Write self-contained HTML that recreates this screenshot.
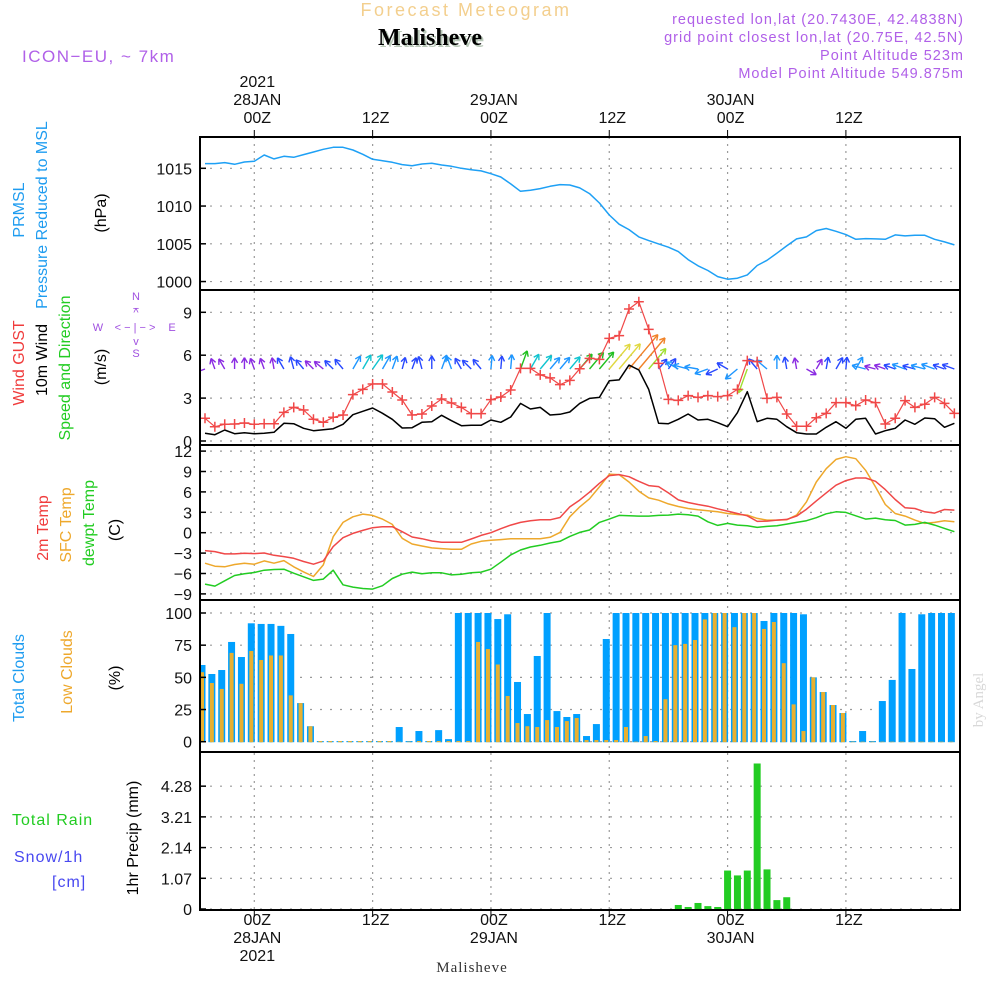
<!DOCTYPE html>
<html><head><meta charset="utf-8"><title>Forecast Meteogram Malisheve</title>
<style>
html,body{margin:0;padding:0;background:#fff;}
svg{display:block;font-family:"Liberation Sans Narrow","Liberation Sans",sans-serif;}
.tk{font-size:16px;fill:#111;}
.lab{font-size:16px;}
</style></head>
<body>
<svg id="chart" width="1000" height="1000" viewBox="0 0 1000 1000" xmlns="http://www.w3.org/2000/svg">
  <rect width="1000" height="1000" fill="#fff"/>
  <text x="466" y="16" text-anchor="middle" font-size="18" fill="#f3cf8e" letter-spacing="2.5" font-family="Liberation Sans, sans-serif">Forecast Meteogram</text>
  <text x="432" y="47" text-anchor="middle" font-size="24" font-weight="bold" fill="#b8c8b8" font-family="Liberation Serif, serif">Malisheve</text>
  <text x="430" y="45" text-anchor="middle" font-size="24" font-weight="bold" fill="#000" font-family="Liberation Serif, serif">Malisheve</text>
  <text x="22" y="62" font-size="17" fill="#b060e8" letter-spacing="1.5" font-family="Liberation Sans, sans-serif">ICON−EU, ~ 7km</text>
  <g font-size="14.5" fill="#b060e8" text-anchor="end" letter-spacing="1" font-family="Liberation Sans, sans-serif">
    <text x="964" y="24">requested lon,lat (20.7430E, 42.4838N)</text>
    <text x="964" y="42">grid point closest lon,lat (20.75E, 42.5N)</text>
    <text x="964" y="60">Point Altitude 523m</text>
    <text x="964" y="78">Model Point Altitude 549.875m</text>
  </g>
  <g id="grid"></g>
  <g id="marks"></g>
  <g id="axes"></g>

  <g class="lab">
    <text transform="translate(24,210) rotate(-90)" text-anchor="middle" fill="#1e9cf0">PRMSL</text>
    <text transform="translate(47,215) rotate(-90)" text-anchor="middle" fill="#1e9cf0">Pressure Reduced to MSL</text>
    <text transform="translate(106,213) rotate(-90)" text-anchor="middle" fill="#000">(hPa)</text>

    <text transform="translate(24,363) rotate(-90)" text-anchor="middle" fill="#f03c3c">Wind GUST</text>
    <text transform="translate(47,360) rotate(-90)" text-anchor="middle" fill="#000">10m Wind</text>
    <text transform="translate(70,368) rotate(-90)" text-anchor="middle" fill="#22cc22">Speed and Direction</text>
    <text transform="translate(106,367) rotate(-90)" text-anchor="middle" fill="#000">(m/s)</text>
    <g fill="#a050e0" font-size="11" text-anchor="middle">
      <text x="136" y="300">N</text><text x="136" y="312">−</text><text x="136" y="316">^</text>
      <text x="98" y="331">W</text><text x="135" y="331">&lt; − | − &gt;</text><text x="172" y="331">E</text>
      <text x="136" y="345">v</text><text x="136" y="357">S</text>
    </g>

    <text transform="translate(48,528) rotate(-90)" text-anchor="middle" fill="#f03c3c">2m Temp</text>
    <text transform="translate(71,525) rotate(-90)" text-anchor="middle" fill="#eea82c">SFC Temp</text>
    <text transform="translate(94,523) rotate(-90)" text-anchor="middle" fill="#22cc22">dewpt Temp</text>
    <text transform="translate(120,530) rotate(-90)" text-anchor="middle" fill="#000">(C)</text>

    <text transform="translate(24,678) rotate(-90)" text-anchor="middle" fill="#1e9cf0">Total Clouds</text>
    <text transform="translate(72,672) rotate(-90)" text-anchor="middle" fill="#eea82c">Low Clouds</text>
    <text transform="translate(120,678) rotate(-90)" text-anchor="middle" fill="#000">(%)</text>

    <text x="12" y="825" fill="#22cc22" letter-spacing="1">Total  Rain</text>
    <text x="14" y="862" fill="#4848f0" letter-spacing="1">Snow/1h</text>
    <text x="52" y="887" fill="#4848f0" letter-spacing="1">[cm]</text>
    <text transform="translate(138,838) rotate(-90)" text-anchor="middle" fill="#000">1hr Precip (mm)</text>
  </g>
  <text x="472" y="972" text-anchor="middle" font-size="15" fill="#333" font-family="Liberation Serif, serif" letter-spacing="1">Malisheve</text>
  <text transform="translate(983,700) rotate(-90)" text-anchor="middle" font-size="15" fill="#d8d8d8" font-family="Liberation Serif, serif">by Angel</text>
</svg>
<script>
// ---- data (hourly, index 0 = 19Z 27 JAN) ----
const hours = [0,1,2,3,4,5,6,7,8,9,10,11,12,13,14,15,16,17,18,19,20,21,22,23,24,25,26,27,28,29,30,31,32,33,34,35,36,37,38,39,40,41,42,43,44,45,46,47,48,49,50,51,52,53,54,55,56,57,58,59,60,61,62,63,64,65,66,67,68,69,70,71,72,73,74,75,76];
const pressure = [1015.62,1015.62,1015.75,1015.53,1015.84,1015.93,1016.76,1016.24,1016.59,1016.46,1016.81,1017.16,1017.51,1017.78,1017.78,1017.43,1016.85,1016.19,1016.01,1015.79,1015.49,1015.35,1015.57,1015.66,1015.44,1015.26,1015.0,1014.82,1014.65,1014.29,1013.85,1012.93,1011.96,1012.09,1012.31,1012.62,1012.84,1012.79,1012.4,1011.65,1010.41,1008.82,1007.59,1006.88,1005.91,1005.43,1004.99,1004.55,1003.97,1002.91,1002.08,1001.46,1000.66,1000.31,1000.44,1000.88,1002.12,1002.82,1003.75,1004.72,1005.65,1005.91,1006.75,1007.02,1006.66,1006.22,1005.6,1005.69,1005.65,1005.6,1006.18,1006.04,1006.13,1006.13,1005.6,1005.25,1004.85];
const gust = [1.59,1.0,1.17,1.19,1.26,1.17,1.21,1.21,2.0,2.35,2.17,1.52,1.31,1.66,1.82,3.24,3.61,3.99,3.99,3.43,2.87,1.82,1.89,2.45,2.94,2.66,2.35,1.91,1.91,2.89,3.08,3.57,5.08,5.08,4.62,4.41,3.94,4.24,5.05,5.78,5.71,7.18,7.37,9.23,9.74,7.81,5.43,2.91,2.84,3.17,3.05,3.17,3.1,3.17,3.61,5.62,5.55,2.98,3.05,1.89,1.03,1.03,1.63,1.93,2.68,2.68,2.47,2.87,2.68,1.19,1.59,2.82,2.35,2.57,3.05,2.63,1.93];
const wind10 = [0.54,0.44,0.77,0.51,0.58,0.51,0.54,0.61,1.24,1.21,0.89,0.72,0.79,0.86,1.17,1.84,2.08,2.31,1.94,1.52,0.91,0.93,1.31,1.35,1.8,1.42,1.07,1.1,1.1,1.47,1.31,1.68,2.63,2.24,2.35,1.82,1.87,2.03,2.63,2.98,3.05,4.22,4.27,5.31,4.97,3.61,1.24,1.21,1.52,1.89,1.47,1.52,1.28,1.0,1.98,3.45,1.35,1.59,1.52,1.0,0.58,0.49,0.49,0.96,1.35,0.89,1.52,1.59,0.49,0.72,0.89,1.47,1.17,1.61,1.56,0.96,1.24];
const windDir = [250,340,330,0,0,340,340,350,330,345,320,315,310,315,320,30,30,35,30,20,15,20,345,0,20,340,330,315,320,5,5,5,20,30,40,40,40,40,40,40,40,40,40,40,40,40,40,35,300,285,280,250,245,300,230,200,320,310,0,350,350,120,30,10,30,5,30,285,285,290,290,290,285,285,290,290,290];
const temp2m = [-2.63,-2.78,-3.12,-3.12,-3.02,-3.07,-2.98,-3.32,-3.51,-3.76,-4.24,-4.63,-4.15,-2.05,-0.73,-0.1,0.34,0.73,0.88,0.88,0.15,-0.63,-0.88,-1.22,-1.41,-1.41,-1.41,-0.93,-0.39,0,0.59,1.12,1.51,1.76,1.90,1.90,2.24,3.80,4.8,5.95,7.27,8.39,8.54,8.24,7.56,6.93,6.78,5.85,4.83,4.44,4.15,3.9,3.51,3.17,2.83,2.49,1.66,1.71,1.85,1.95,2.44,3.46,4.68,5.85,6.98,7.66,8.05,8.05,7.56,6.34,4.88,3.66,3.56,3.07,2.88,3.41,3.32];
const tempSfc = [-4.49,-4.93,-5.02,-4.68,-4.49,-4.63,-4.15,-4.49,-4.1,-5.02,-5.76,-6.44,-4.73,-0.59,1.51,2.34,2.73,2.54,2.0,1.22,-0.83,-1.66,-1.95,-2.24,-2.34,-2.44,-2.44,-1.66,-1.27,-1.12,-1.02,-0.88,-0.88,-0.88,-0.88,-0.68,0.05,2.34,3.8,4.98,6.73,8.59,8.54,7.46,6.1,5.12,4.78,4.24,3.85,3.56,3.37,3.22,3.07,2.83,2.68,2.59,2.1,1.85,1.85,1.9,2.59,4.54,7.46,9.41,10.78,11.17,10.88,9.17,6.73,4.15,2.83,2.44,1.85,1.37,1.51,1.76,1.61];
const dewpt = [-7.56,-7.85,-7.07,-6.29,-6.05,-5.85,-5.51,-5.41,-5.37,-5.95,-6.49,-7.02,-6.83,-5.51,-7.66,-8.0,-8.2,-8.29,-7.8,-6.73,-6.1,-5.8,-6.05,-5.9,-5.9,-6.2,-6.1,-5.9,-5.8,-5.37,-4.34,-3.27,-2.54,-2.1,-1.85,-1.51,-1.27,-0.54,0.05,0.39,1.51,2.0,2.54,2.49,2.44,2.44,2.54,2.59,2.73,2.63,2.44,1.61,1.07,1.37,1.12,1.02,0.78,0.93,1.02,1.27,1.51,1.76,2.2,2.78,3.07,2.98,2.49,2.0,2.15,1.9,1.8,1.12,1.22,1.51,1.12,0.63,0.15];
const totalCloud = [59.6,52.6,55.7,77.5,65.8,92,91.5,91.5,90,83.7,30,12,0.5,0.5,0.5,0.5,0.5,0.5,0.5,0.5,11.4,0.5,8.3,0.5,9,2,100,100,100,100,95.3,99,46.4,21.5,66.6,100,23.8,19.2,21.5,4.4,13.7,79.8,100,100,100,100,100,100,100,100,100,100,100,100,100,100,100,93.8,100,100,100,99,50,38.6,28.5,22.3,0.5,8.3,0.5,31.6,48,100,56.5,99,100,100,100];
const lowCloud = [54,45.6,41,69,45,70.5,63.5,67,67,36,30,12,0.5,0.5,0.5,0.5,0.5,0.5,0.5,0.5,0,0,0.5,0.5,0.5,0.5,0.5,0.5,77.5,72,60,35.5,14.5,12,11.4,16.8,11.4,16,18.4,1.3,1.3,1.3,1.3,11.4,0,4.4,0.5,33,75,76,79,95,100,100,89,100,100,87.6,93,61,29,8.3,50,38.6,28.5,22.3,0,0,0,0,0,0,0,0,0,0,0];
const precip = [0,0,0,0,0,0,0,0,0,0,0,0,0,0,0,0,0,0,0,0,0,0,0,0,0,0,0,0,0,0,0,0,0,0,0,0,0,0,0,0,0,0,0,0,0,0,0,0,0.14,0.07,0.21,0.10,0.07,1.34,1.17,1.34,5.07,1.38,0.31,0.41,0,0,0,0,0,0,0,0,0,0,0,0,0,0,0,0,0];
const timeTickHours = [5,17,29,41,53,65];
const timeTickLabels = ["00Z","12Z","00Z","12Z","00Z","12Z"];
const dateLabels = ["28JAN","","29JAN","","30JAN",""];
const pressTicks = [1000,1005,1010,1015];
const windTicks = [0,3,6,9];
const tempTicks = [-9,-6,-3,0,3,6,9,12];
const cloudTicks = [0,25,50,75,100];
const precipTicks = [0,1.07,2.14,3.21,4.28];

const X0=200, X1=960;
const x = h => 205 + 9.86*h;
const yP = v => 168.3 + (1015 - v)*7.55;
const yW = v => 441 - v*14.3;
const yT = v => 532.7 - v*6.8;
const yC = v => 741.7 - v*1.287;
const yR = v => 909 - v*28.7;
const panels = [[137,290],[290,445],[445,600],[600,752],[752,910]];

const NS='http://www.w3.org/2000/svg';
function mk(tag, attrs, parent){const e=document.createElementNS(NS,tag);for(const k in attrs)e.setAttribute(k,attrs[k]);parent.appendChild(e);return e;}
const grid=document.getElementById('grid'), marks=document.getElementById('marks'), axes=document.getElementById('axes');

const defs=mk('defs',{},document.getElementById('chart'));
const cp=mk('clipPath',{id:'plotclip'},defs); mk('rect',{x:X0,y:137,width:X1-X0,height:773},cp);
marks.setAttribute('clip-path','url(#plotclip)');

timeTickHours.forEach((h,k)=>{
  const gx=x(h);
  const lx=gx+3;
  const l=mk('line',{x1:gx,x2:gx,y1:137,y2:910,stroke:'#9a9a9a','stroke-width':1.2,'stroke-dasharray':'2 5'},grid);
  
  
  mk('line',{x1:gx,x2:gx,y1:130,y2:137,stroke:'#000'},axes);
  mk('line',{x1:gx,x2:gx,y1:910,y2:917,stroke:'#000'},axes);
  const t1=mk('text',{x:lx,y:123,'text-anchor':'middle',class:'tk'},axes); t1.textContent=timeTickLabels[k];
  
  
  const t2=mk('text',{x:lx,y:925,'text-anchor':'middle',class:'tk'},axes); t2.textContent=timeTickLabels[k];
  
  
  if(dateLabels[k]){
    const d1=mk('text',{x:lx,y:105,'text-anchor':'middle',class:'tk'},axes); d1.textContent=dateLabels[k];
    
    
    const d2=mk('text',{x:lx,y:943,'text-anchor':'middle',class:'tk'},axes); d2.textContent=dateLabels[k];
    
    
  }
  if(k===0){
    const y1=mk('text',{x:lx,y:87,'text-anchor':'middle',class:'tk'},axes); y1.textContent='2021';
    
    
    const y2=mk('text',{x:lx,y:961,'text-anchor':'middle',class:'tk'},axes); y2.textContent='2021';
    
    
  }
});

function yAxis(ticks, sc, name){
  ticks.forEach(v=>{
    const yy=sc(v);
    const g=mk('line',{x1:X0,x2:X1,y1:yy,y2:yy,stroke:'#9a9a9a','stroke-width':1.2,'stroke-dasharray':'2 8'},grid);
    
    
    mk('line',{x1:X0,x2:X0+6,y1:yy,y2:yy,stroke:'#000','stroke-width':1.5},axes);
    const t=mk('text',{x:192,y:yy+6,'text-anchor':'end',class:'tk'},axes);
    t.textContent=String(v).replace('-','−');
    
    
  });
}
yAxis(pressTicks,yP,'pressure');
yAxis(windTicks,yW,'wind');
yAxis(tempTicks,yT,'temp');
yAxis(cloudTicks,yC,'cloud');
yAxis(precipTicks,yR,'precip');

function line(arr, sc, color, name, w){
  const d=arr.map((v,i)=>(i?'L':'M')+x(hours[i]).toFixed(1)+','+sc(v).toFixed(1)).join('');
  const p=mk('path',{d:d,fill:'none',stroke:color,'stroke-width':w||1.5,'stroke-linejoin':'round'},marks);
  
  
}

line(pressure,yP,'#1ea0f5','pressure-line');

totalCloud.forEach((v,i)=>{
  const cx=x(hours[i])-3;
  const r=mk('rect',{x:cx-3.5,y:yC(v),width:7,height:yC(0)-yC(v)+0.5,fill:'#00a0ff'},marks);
  
  
});
lowCloud.forEach((v,i)=>{
  const cx=x(hours[i])-3;
  const r=mk('rect',{x:cx-2,y:yC(v),width:4,height:yC(0)-yC(v)+0.5,fill:'#e8b030'},marks);
  
  
});

precip.forEach((v,i)=>{
  if(v<=0) return;
  const cx=x(hours[i]);
  const r=mk('rect',{x:cx-3.5,y:yR(v),width:7,height:yR(0)-yR(v),fill:'#22cc22'},marks);
  
  
});

line(tempSfc,yT,'#eea82c','sfc-temp-line');
line(temp2m,yT,'#f04848','temp-2m-line');
line(dewpt,yT,'#22cc22','dewpoint-line');

function windColor(s){
  if(s<0.8) return '#8a2be2';
  if(s<1.4) return '#2848ff';
  if(s<2.0) return '#1e96ff';
  if(s<2.5) return '#10c4d0';
  if(s<3.3) return '#20c020';
  if(s<4.0) return '#a0e030';
  if(s<4.6) return '#e0d840';
  return '#f08228';
}
wind10.forEach((s,i)=>{
  const tx=x(hours[i]), ty=369;
  const L=11+1.2*s*s;
  const a=windDir[i]*Math.PI/180;
  const hx=tx+L*Math.sin(a), hy=ty-L*Math.cos(a);
  const c=windColor(s);
  const g=mk('g',{stroke:c,'stroke-width':1.4,fill:'none'},marks);
  
  
  mk('line',{x1:tx,y1:ty,x2:hx,y2:hy},g);
  [150,-150].forEach(o=>{
    const b=a+o*Math.PI/180;
    mk('line',{x1:hx,y1:hy,x2:hx+6*Math.sin(b),y2:hy-6*Math.cos(b)},g);
  });
});

line(wind10,yW,'#000','wind-10m-line',1.5);
line(gust,yW,'#f04848','wind-gust-line',1.2);
gust.forEach((v,i)=>{
  const cx=x(hours[i]), cy=yW(v);
  const g=mk('path',{d:`M${cx-5},${cy}H${cx+5}M${cx},${cy-5}V${cy+5}`,stroke:'#f04848','stroke-width':1.5},marks);
  
  
});

panels.forEach(([a,b])=>{
  const r=mk('rect',{x:X0,y:a,width:X1-X0,height:b-a,fill:'none',stroke:'#000','stroke-width':2},axes);
  
  
});
</script>
</body></html>
